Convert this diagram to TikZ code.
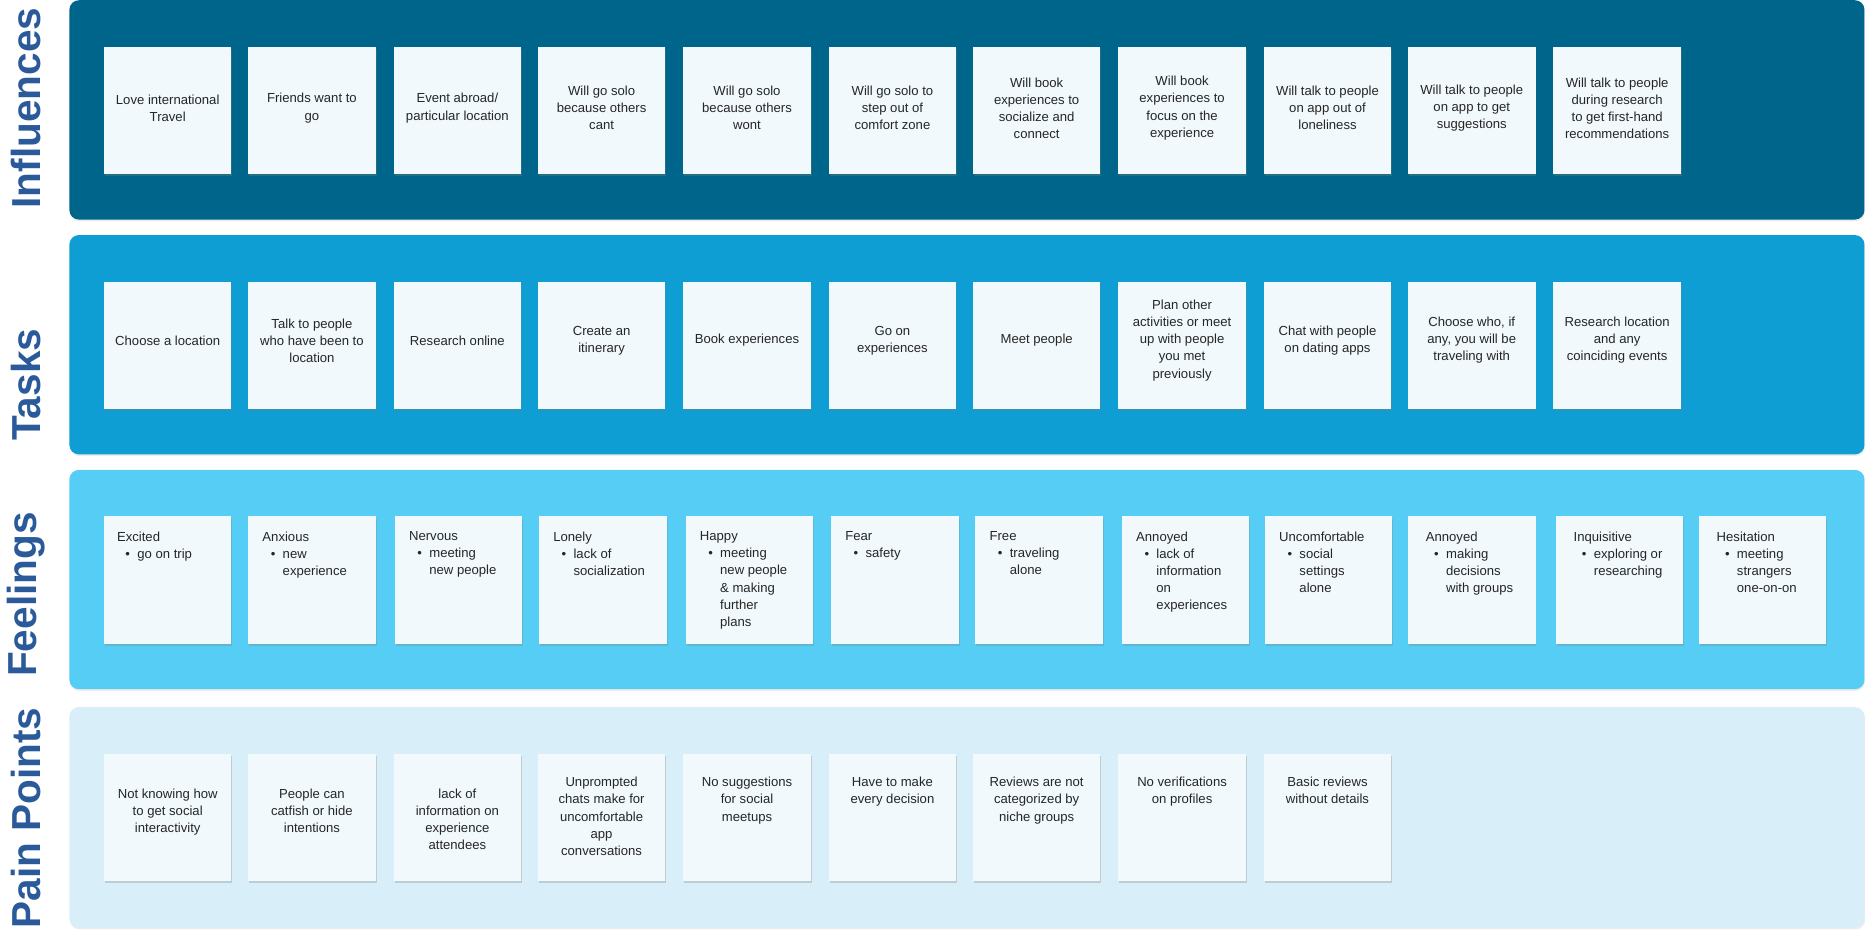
\documentclass[tikz,border=0pt]{standalone}
\usepackage{fontspec}
\setmainfont{Liberation Sans}
\usetikzlibrary{shadows}
\definecolor{cinf}{HTML}{00658A}
\definecolor{ctask}{HTML}{0E9ED3}
\definecolor{cfeel}{HTML}{55CDF5}
\definecolor{cpain}{HTML}{D8EFF9}
\definecolor{ccard}{HTML}{F1F9FC}
\definecolor{clab}{HTML}{2B5A9A}
\tikzset{
 panel/.style={fill=#1, rounded corners=8pt, draw=none, drop shadow={opacity=0.15, shadow xshift=0.5pt, shadow yshift=-1.5pt}},
 card/.style={fill=ccard, draw=none, anchor=north west, minimum width=107pt, minimum height=107pt, inner sep=0pt, drop shadow={opacity=0.3, shadow xshift=0.8pt, shadow yshift=-1.8pt}},
 ctext/.style={font=\fontsize{11}{14.3}\selectfont, align=center, text=black!85, inner sep=0pt},
 ftext/.style={font=\fontsize{11}{14.3}\selectfont, align=left, text=black!85, inner sep=0pt, anchor=north west},
 lab/.style={rotate=90, anchor=west, font=\fontsize{34}{36}\selectfont\bfseries, text=clab, inner sep=0pt}
}
\newcommand\ccard[5]{\node[card] (#1) at (#2pt,-#3pt) {};
 \node[ctext] (#1t) at ([yshift=#4pt]#1.center) {#5};}
\newcommand\pcard[5]{\node[card] (#1) at (#2pt,-#3pt) {};
 \node[ctext, anchor=north] (#1t) at ([yshift=-#4pt]#1.north) {#5};}
\newcommand\fcard[5]{\node[card] (#1) at (#2pt,-433pt) {};
 \node[ftext] (#1t) at ([xshift=#3pt,yshift=-13pt]#1.north west) {#4\\\hspace*{7pt}\makebox[10pt][l]{•}\begin{tabular}[t]{@{}l@{}}#5\end{tabular}};}
\begin{document}
\begin{tikzpicture}[x=1pt,y=1pt]
\useasboundingbox (0,0) rectangle (1568,-784);
\node[panel=cinf, minimum width=1506pt, minimum height=184pt, anchor=north west, inner sep=0] (pinf) at (58,0) {};
\node[panel=ctask, minimum width=1506pt, minimum height=184pt, anchor=north west, inner sep=0] (ptask) at (58,-197) {};
\node[panel=cfeel, minimum width=1506pt, minimum height=184pt, anchor=north west, inner sep=0] (pfeel) at (58,-394) {};
\node[panel=cpain, minimum width=1506pt, minimum height=185pt, anchor=north west, inner sep=0] (ppain) at (58,-593) {};
\node[lab] (linf) at (22,-175) {Influences};
\node[lab] (ltask) at (22,-370) {Tasks};
\node[lab] (lfeel) at (22,-568) {Feelings};
\node[lab] (lpain) at (22,-779) {Pain Points};
% Influences
\ccard{i1}{87}{39}{2}{Love international\\Travel}
\ccard{i2}{208}{39}{2}{Friends want to\\go}
\ccard{i3}{330}{39}{2}{Event abroad/\\particular location}
\ccard{i4}{451}{39}{2}{Will go solo\\because others\\cant}
\ccard{i5}{573}{39}{2}{Will go solo\\because others\\wont}
\ccard{i6}{695}{39}{2}{Will go solo to\\step out of\\comfort zone}
\ccard{i7}{816}{39}{2}{Will book\\experiences to\\socialize and\\connect}
\ccard{i8}{938}{39}{2}{Will book\\experiences to\\focus on the\\experience}
\ccard{i9}{1060}{39}{2}{Will talk to people\\on app out of\\loneliness}
\ccard{i10}{1181}{39}{2}{Will talk to people\\on app to get\\suggestions}
\ccard{i11}{1303}{39}{2}{Will talk to people\\during research\\to get first-hand\\recommendations}
% Tasks
\ccard{t1}{87}{236}{4}{Choose a location}
\ccard{t2}{208}{236}{4}{Talk to people\\who have been to\\location}
\ccard{t3}{330}{236}{4}{Research online}
\ccard{t4}{451}{236}{4}{Create an\\itinerary}
\ccard{t5}{573}{236}{4}{Book experiences}
\ccard{t6}{695}{236}{4}{Go on\\experiences}
\ccard{t7}{816}{236}{4}{Meet people}
\ccard{t8}{938}{236}{4}{Plan other\\activities or meet\\up with people\\you met\\previously}
\ccard{t9}{1060}{236}{4}{Chat with people\\on dating apps}
\ccard{t10}{1181}{236}{4}{Choose who, if\\any, you will be\\traveling with}
\ccard{t11}{1303}{236}{4}{Research location\\and any\\coinciding events}
% Feelings
\fcard{f1}{87}{11}{Excited}{go on trip}
\fcard{f2}{208}{12}{Anxious}{new\\experience}
\fcard{f3}{331}{12}{Nervous}{meeting\\new people}
\fcard{f4}{452}{12}{Lonely}{lack of\\socialization}
\fcard{f5}{575}{12}{Happy}{meeting\\new people\\\& making\\further\\plans}
\fcard{f6}{697}{12}{Fear}{safety}
\fcard{f7}{818}{12}{Free}{traveling\\alone}
\fcard{f8}{941}{12}{Annoyed}{lack of\\information\\on\\experiences}
\fcard{f9}{1061}{12}{Uncomfortable}{social\\settings\\alone}
\fcard{f10}{1181}{15}{Annoyed}{making\\decisions\\with groups}
\fcard{f11}{1305}{15}{Inquisitive}{exploring or\\researching}
\fcard{f12}{1425}{15}{Hesitation}{meeting\\strangers\\one-on-on}
% Pain points
\pcard{p1}{87}{632}{30}{Not knowing how\\to get social\\interactivity}
\pcard{p2}{208}{632}{30}{People can\\catfish or hide\\intentions}
\pcard{p3}{330}{632}{30}{lack of\\information on\\experience\\attendees}
\pcard{p4}{451}{632}{20}{Unprompted\\chats make for\\uncomfortable\\app\\conversations}
\pcard{p5}{573}{632}{20}{No suggestions\\for social\\meetups}
\pcard{p6}{695}{632}{20}{Have to make\\every decision}
\pcard{p7}{816}{632}{20}{Reviews are not\\categorized by\\niche groups}
\pcard{p8}{938}{632}{20}{No verifications\\on profiles}
\pcard{p9}{1060}{632}{20}{Basic reviews\\without details}
\end{tikzpicture}
\end{document}
